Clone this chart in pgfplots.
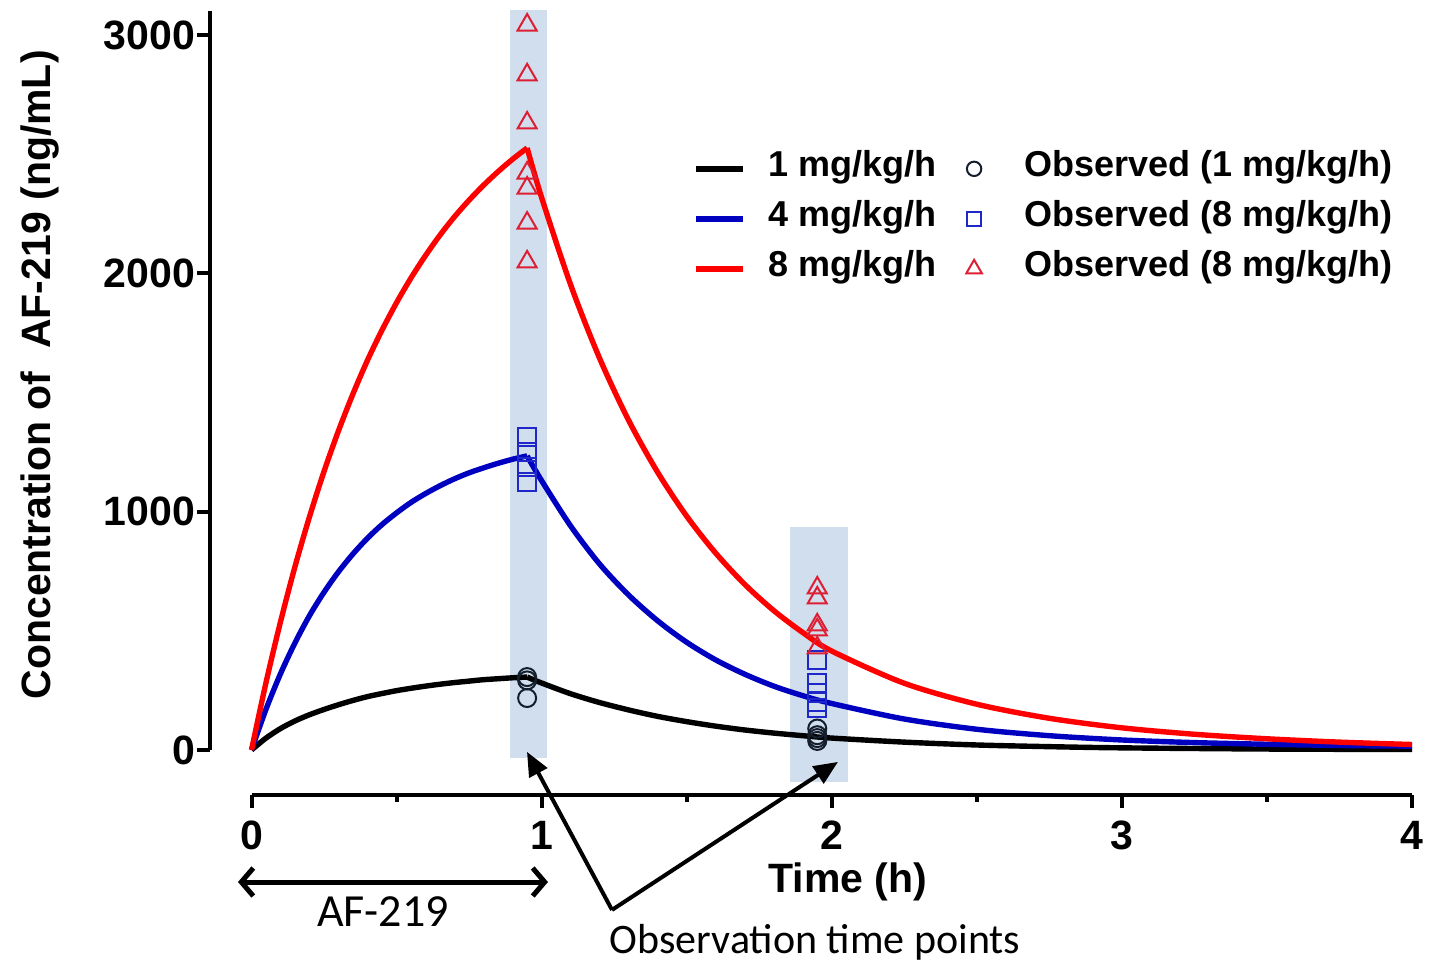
\documentclass[border=0pt]{standalone}
\usepackage{pgfplots}
\pgfplotsset{compat=1.18}
\usepackage{fontspec}
\setmainfont{Liberation Sans}
\newfontfamily\calib{Carlito}
\usetikzlibrary{arrows.meta}
\definecolor{obsband}{RGB}{208,222,238}
\definecolor{cblue}{RGB}{0,0,192}
\definecolor{cred}{RGB}{255,0,0}
\definecolor{mred}{RGB}{222,30,50}
\definecolor{mblue}{RGB}{30,40,200}
\definecolor{mblack}{RGB}{20,30,45}
\pgfplotsset{
  lineimg/.style={legend image code/.code={\draw[##1, line width=3pt] (0pt,0pt) -- (23.5pt,0pt); \path[draw=none] (0pt,0pt) -- (36pt,0pt);}},
  markimg/.style={legend image code/.code={\path[draw=none] (-19pt,0pt) -- (25pt,0pt); \draw[##1, mark size=#1] plot coordinates {(0pt,0pt)};}},
  curve/.style={line width=2.7pt, smooth},
}
\begin{document}
\begin{tikzpicture}
\begin{axis}[
  scale only axis, width=580.25pt, height=369.4pt,
  xmin=0, xmax=4, ymin=0, ymax=3100,
  axis lines*=left,
  axis x line shift=22.5pt,
  axis y line shift=20.75pt,
  axis line style={line width=2pt},
  xtick={0,1,2,3,4}, minor xtick={0.5,1.5,2.5,3.5},
  ytick={0,1000,2000,3000},
  tick align=outside,
  major tick length=6.5pt, minor tick length=3.5pt,
  every tick/.style={black, line width=2pt},
  /pgf/number format/assume math mode=true,
  /pgf/number format/1000 sep={},
  tick label style={font=\fontsize{20.5}{20.5}\selectfont\bfseries},
  xticklabel style={yshift=-3pt},
  yticklabel style={xshift=2.5pt},
  xlabel={Time (h)},
  ylabel={Concentration of\ \ AF-219 (ng/mL)},
  label style={font=\fontsize{20.5}{24}\selectfont\bfseries},
  xlabel style={at={(axis description cs:0.514,-0.1787)}, anchor=center},
  ylabel style={at={(axis description cs:-0.1823,0.5077)}, anchor=center},
  clip=false,
  legend columns=2,
  legend cell align=left,
  legend style={draw=none, fill=none, at={(axis cs:1.522,2514)}, anchor=north west,
    inner sep=0pt, outer sep=0pt, row sep=7pt,
    nodes={inner sep=0pt, text height=13pt, text depth=5pt, font=\fontsize{18}{18}\selectfont\bfseries}},
]
% observation windows
\fill[obsband] (axis cs:0.890,-34) rectangle (axis cs:1.018,3105);
\fill[obsband] (axis cs:1.855,-134) rectangle (axis cs:2.055,936);
\coordinate (BL) at (axis cs:-0.8669,-898);
\coordinate (TR) at (axis cs:4.0620,3147);

% 1 mg/kg/h
\addplot[black, curve, lineimg]
  coordinates {(0,0)(0.05,50)(0.1,90)(0.15,122)(0.2,148)(0.25,170)(0.3,190)(0.35,208)(0.4,224)(0.45,237)(0.5,249)(0.55,259)(0.6,268)(0.65,276)(0.7,283)(0.75,289)(0.8,295)(0.85,299)(0.9,303)(0.95,306)};
\addlegendentry{1 mg/kg/h}
\addplot[black, curve, forget plot]
  coordinates {(0.95,306)(1.0,281)(1.1,236)(1.2,199)(1.3,168)(1.4,141)(1.5,119)(1.6,100)(1.7,84)(1.8,71)(1.9,60)(2.0,50)(2.25,33)(2.5,21)(2.75,14)(3.0,9)(3.5,4)(4.0,2)};
\addplot[only marks, mark=o, mark size=4.5pt, draw=mblack, mark options={line width=1pt}, markimg=3.6pt]
  coordinates {(0.95,306)(0.95,292)(0.95,218)(1.95,90)(1.95,62)(1.95,50)(1.95,38)};
\addlegendentry{Observed (1 mg/kg/h)}

% 4 mg/kg/h
\addplot[cblue, curve, lineimg]
  coordinates {(0,0)(0.05,171)(0.1,320)(0.15,450)(0.2,564)(0.25,662)(0.3,748)(0.35,823)(0.4,889)(0.45,946)(0.5,995)(0.55,1039)(0.6,1076)(0.65,1109)(0.7,1138)(0.75,1163)(0.8,1184)(0.85,1203)(0.9,1220)(0.95,1234)};
\addlegendentry{4 mg/kg/h}
\addplot[cblue, curve, forget plot]
  coordinates {(0.95,1234)(1.0,1130)(1.1,940)(1.2,780)(1.3,650)(1.4,542)(1.5,452)(1.6,378)(1.7,318)(1.8,268)(1.9,228)(2.0,195)(2.25,130)(2.5,87)(2.75,60)(3.0,42)(3.25,31)(3.5,24)(3.75,19)(4.0,16)};
\addplot[only marks, mark=square, mark size=4.5pt, draw=mblue, mark options={line width=1pt}, markimg=3.6pt]
  coordinates {(0.95,1313)(0.95,1250)(0.95,1188)(0.95,1125)(1.95,378)(1.95,281)(1.95,239)(1.95,201)(1.95,176)};
\addlegendentry{Observed (8 mg/kg/h)}

% 8 mg/kg/h
\addplot[cred, curve, lineimg]
  coordinates {(0,0)(0.05,283)(0.1,538)(0.15,770)(0.2,979)(0.25,1169)(0.3,1340)(0.35,1495)(0.4,1636)(0.45,1762)(0.5,1877)(0.55,1981)(0.6,2075)(0.65,2161)(0.7,2238)(0.75,2307)(0.8,2370)(0.85,2427)(0.9,2479)(0.95,2526)};
\addlegendentry{8 mg/kg/h}
\addplot[cred, curve, forget plot]
  coordinates {(0.95,2526)(1.0,2318)(1.1,1952)(1.2,1643)(1.3,1383)(1.4,1165)(1.5,981)(1.6,826)(1.7,695)(1.8,585)(1.9,493)(2.0,415)(2.25,280)(2.5,192)(2.75,133)(3.0,93)(3.25,66)(3.5,47)(3.75,33)(4.0,23)};
\addplot[only marks, mark=triangle, mark size=5.5pt, draw=mred, mark options={line width=1pt}, markimg=4.5pt]
  coordinates {(0.95,3042)(0.95,2833)(0.95,2631)(0.95,2421)(0.95,2358)(0.95,2211)(0.95,2048)(1.95,680)(1.95,638)(1.95,525)(1.95,504)(1.95,428)};
\addlegendentry{Observed (8 mg/kg/h)}

% annotations
\draw[line width=2.5pt, {Straight Barb[length=6pt,width=14pt]}-{Straight Barb[length=6pt,width=14pt]}] (axis cs:-0.0465,-554) -- (axis cs:1.022,-554);
\node[font=\calib\fontsize{23}{23}\selectfont] at (axis cs:0.4533,-680) {AF-219};
\draw[line width=2pt, -{Triangle[length=12pt,width=10pt]}] (axis cs:1.2426,-671) -- (axis cs:0.9496,-8);
\draw[line width=2pt, -{Triangle[length=12pt,width=10pt]}] (axis cs:1.2426,-671) -- (axis cs:2.0215,-50);
\node[font=\calib\fontsize{21}{21}\selectfont] at (axis cs:1.9423,-806) {Observation time points};
\end{axis}
\pgfresetboundingbox
\path[use as bounding box] (BL) rectangle (TR);
\end{tikzpicture}
\end{document}
